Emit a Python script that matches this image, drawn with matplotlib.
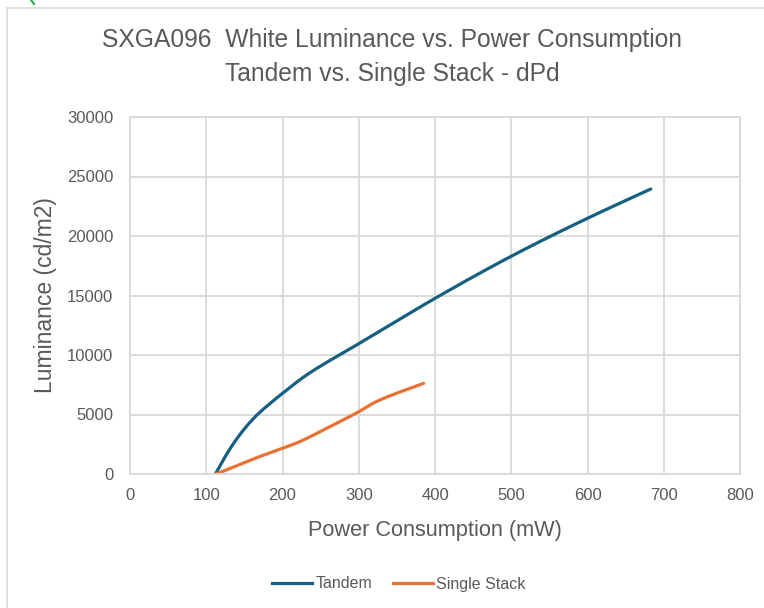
import numpy as np
import matplotlib
matplotlib.use("Agg")
import matplotlib.pyplot as plt
from matplotlib.lines import Line2D
from matplotlib.patches import Rectangle

# ---- data ----
tandem_x = [112, 125, 142, 164, 186, 200, 230, 300, 400, 500, 600, 683]
tandem_y = [0, 1480, 3130, 4800, 6050, 6780, 8250, 10950, 14760, 18300, 21490, 23950]
single_x = [113, 164, 200, 220, 262, 300, 322, 385]
single_y = [0, 1320, 2160, 2650, 3975, 5235, 6050, 7620]
series_names = ["Tandem", "Single Stack"]
x_ticks = [0, 100, 200, 300, 400, 500, 600, 700, 800]
y_ticks = [0, 5000, 10000, 15000, 20000, 25000, 30000]
title_text = "SXGA096  White Luminance vs. Power Consumption\nTandem vs. Single Stack - dPd"
x_label = "Power Consumption (mW)"
y_label = "Luminance (cd/m2)"

plt.rcParams['font.family'] = ['Liberation Sans', 'DejaVu Sans']

TXT = "#595959"
GRID = "#d9d9d9"
C1 = "#156082"
C2 = "#E97132"


def smooth(x, y, n=30):
    # monotone cubic (Fritsch-Carlson) smoothing through the data points
    x = np.asarray(x, float); y = np.asarray(y, float)
    h = np.diff(x); d = np.diff(y) / h
    m = np.zeros_like(y)
    m[0] = d[0]; m[-1] = d[-1]
    for i in range(1, len(x) - 1):
        if d[i - 1] * d[i] <= 0:
            m[i] = 0
        else:
            w1 = 2 * h[i] + h[i - 1]; w2 = h[i] + 2 * h[i - 1]
            m[i] = (w1 + w2) / (w1 / d[i - 1] + w2 / d[i])
    ox, oy = [], []
    for i in range(len(x) - 1):
        t = np.linspace(0, 1, n, endpoint=False)
        h00 = 2 * t**3 - 3 * t**2 + 1; h10 = t**3 - 2 * t**2 + t
        h01 = -2 * t**3 + 3 * t**2; h11 = t**3 - t**2
        ox.extend(x[i] + t * h[i])
        oy.extend(h00 * y[i] + h10 * h[i] * m[i] + h01 * y[i + 1] + h11 * h[i] * m[i + 1])
    ox.append(x[-1]); oy.append(y[-1])
    return np.array(ox), np.array(oy)


fig = plt.figure(figsize=(7.64, 6.08), dpi=100)
ax = fig.add_axes([130 / 764, 1 - 474 / 608, 610 / 764, 357 / 608])

# chart border
fig.patches.append(Rectangle((7 / 764, -0.1), 1.2, 1 - 8 / 608 + 0.1, transform=fig.transFigure,
                             fill=False, edgecolor=GRID, linewidth=1.2))
fig.add_artist(Line2D([31 / 764, 34 / 764], [1.0, 1 - 4 / 608], transform=fig.transFigure,
                      color="#22b14c", linewidth=1.5))

sx, sy = smooth(tandem_x, tandem_y)
ax.plot(sx, sy, color=C1, linewidth=2.3, solid_capstyle='round', label=series_names[0])
sx2, sy2 = smooth(single_x, single_y)
ax.plot(sx2, sy2, color=C2, linewidth=2.3, solid_capstyle='round', label=series_names[1])

ax.set_xlim(0, 800)
ax.set_ylim(0, 30000)
ax.set_xticks(x_ticks)
ax.set_yticks(y_ticks)
ax.set_xticklabels([str(v) for v in x_ticks])
ax.set_yticklabels([str(v) for v in y_ticks])
ax.grid(True, color=GRID, linewidth=1.3)
ax.set_axisbelow(True)
for s in ax.spines.values():
    s.set_color(GRID)
    s.set_linewidth(1.3)
ax.tick_params(length=0, labelsize=12, colors=TXT, pad=10)
ax.tick_params(axis='y', pad=12)

ax.set_xlabel(x_label, fontsize=15.7, color=TXT, labelpad=12)
ax.set_ylabel(y_label, fontsize=16.5, color=TXT, labelpad=7)

fig.text(392 / 764, 1 - 57 / 608, title_text, ha='center', va='center', fontsize=17.7,
         color=TXT, linespacing=1.48)

handles = [Line2D([], [], color=C1, linewidth=2.3), Line2D([], [], color=C2, linewidth=2.3)]
fig.legend(handles, series_names, loc='center', bbox_to_anchor=(399 / 764, 1 - 584 / 608),
           ncol=2, frameon=False, fontsize=11.5, labelcolor=TXT, handlelength=2.5,
           handletextpad=0.2, columnspacing=1.3)

fig.savefig("out.png", dpi=100, facecolor="white")
